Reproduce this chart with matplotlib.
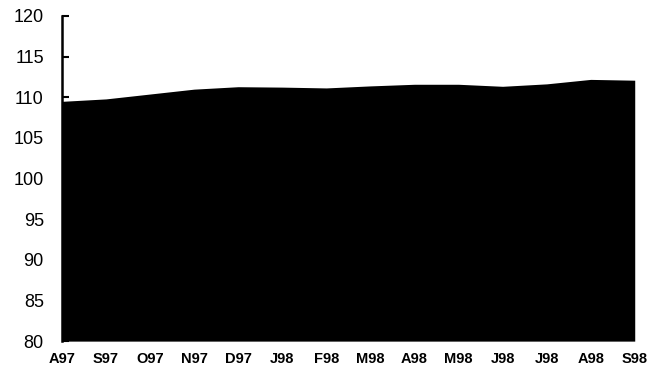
import numpy as np
import matplotlib.pyplot as plt

# monthly index values, Aug 97 - Sep 98
months = ["A97", "S97", "O97", "N97", "D97", "J98", "F98", "M98",
          "A98", "M98", "J98", "J98", "A98", "S98"]
values = [109.5, 109.8, 110.4, 111.0, 111.3, 111.25, 111.15, 111.4,
          111.6, 111.6, 111.35, 111.65, 112.2, 112.1]

plt.rcParams['font.family'] = ['Liberation Sans', 'DejaVu Sans']

fig = plt.figure(figsize=(6.51, 3.72), dpi=100)
ax = fig.add_axes([0.095, 0.083, 0.880, 0.874])

x = np.arange(len(months))
ax.fill_between(x, 80, values, color='black', linewidth=0)

ax.set_xlim(0, len(months) - 1)
ax.set_ylim(80, 120)
ax.set_yticks(np.arange(80, 121, 5))
ax.set_xticks(x)
ax.set_xticklabels(months, fontsize=10.5, fontweight='bold')

for s in ['top', 'right', 'bottom']:
    ax.spines[s].set_visible(False)
ax.spines['left'].set_linewidth(1.8)

ax.tick_params(axis='y', direction='in', length=5, width=1.5, labelsize=13, pad=13)
ax.tick_params(axis='x', length=0, pad=8)

plt.savefig('out.png', dpi=100)
